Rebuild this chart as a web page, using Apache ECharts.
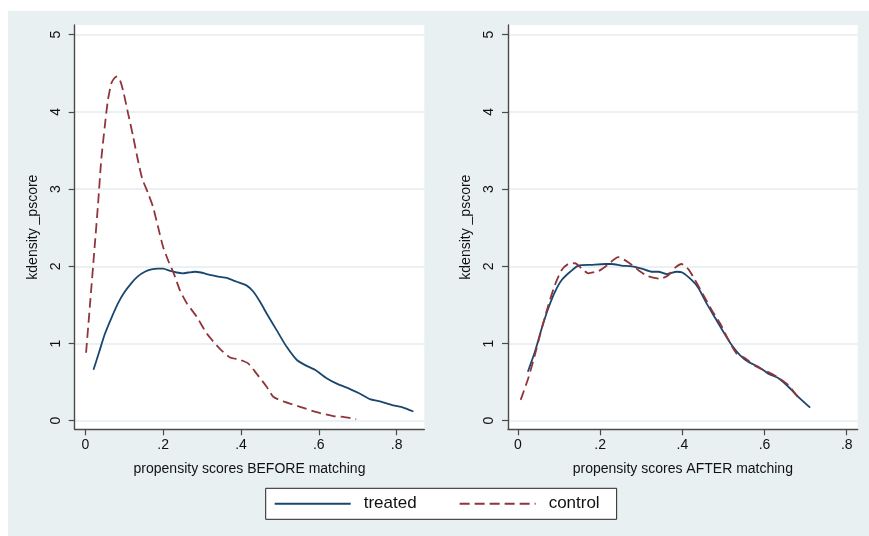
<!DOCTYPE html>
<html>
<head>
<meta charset="utf-8">
<script src="https://cdn.jsdelivr.net/npm/echarts@6/dist/echarts.min.js"></script>
<style>
  html, body { margin: 0; padding: 0; background: #ffffff; }
  #chart { position: absolute; left: 8px; top: 11px; width: 861px; height: 525px; }
</style>
</head>
<body>
<div id="chart"></div>
<script>
// Kernel density of the propensity score, treated vs control, before and after matching.
const xTicks = [0, 0.2, 0.4, 0.6, 0.8];
const yTicks = [0, 1, 2, 3, 4, 5];
const seriesNames = ['treated', 'control'];
const xTitles = ['propensity scores BEFORE matching', 'propensity scores AFTER matching'];
const yTitle = 'kdensity _pscore';

// [pscore, density]
const treatedBefore = [
  [0.021,0.66],[0.035,0.88],[0.050,1.12],[0.067,1.33],[0.084,1.52],[0.100,1.66],
  [0.118,1.78],[0.135,1.87],[0.153,1.93],[0.170,1.96],[0.187,1.97],[0.200,1.97],
  [0.218,1.94],[0.235,1.92],[0.250,1.91],[0.265,1.92],[0.282,1.93],[0.297,1.92],
  [0.312,1.90],[0.330,1.88],[0.350,1.86],[0.363,1.85],[0.389,1.80],[0.415,1.75],
  [0.432,1.67],[0.449,1.54],[0.466,1.39],[0.492,1.17],[0.517,0.96],[0.543,0.79],
  [0.565,0.72],[0.590,0.66],[0.620,0.55],[0.646,0.48],[0.680,0.41],[0.706,0.35],
  [0.731,0.28],[0.757,0.25],[0.791,0.20],[0.817,0.17],[0.843,0.12]
];
const controlBefore = [
  [0.002,0.88],[0.012,1.50],[0.024,2.25],[0.033,2.82],[0.041,3.38],[0.050,3.81],
  [0.058,4.15],[0.067,4.37],[0.075,4.44],[0.082,4.46],[0.090,4.40],[0.097,4.28],
  [0.110,3.98],[0.123,3.68],[0.135,3.38],[0.146,3.14],[0.161,2.95],[0.174,2.77],
  [0.187,2.51],[0.200,2.25],[0.215,2.05],[0.228,1.90],[0.243,1.69],[0.261,1.52],
  [0.286,1.35],[0.312,1.13],[0.346,0.93],[0.372,0.82],[0.397,0.79],[0.419,0.74],
  [0.440,0.61],[0.466,0.44],[0.483,0.31],[0.509,0.25],[0.552,0.18],[0.595,0.11],
  [0.637,0.06],[0.663,0.05],[0.696,0.02]
];
const treatedAfter = [
  [0.024,0.635],[0.041,0.89],[0.058,1.20],[0.074,1.46],[0.090,1.67],[0.106,1.82],
  [0.127,1.93],[0.147,2.01],[0.179,2.02],[0.212,2.03],[0.228,2.03],[0.252,2.01],
  [0.277,2.00],[0.301,1.97],[0.325,1.93],[0.342,1.93],[0.362,1.90],[0.386,1.93],
  [0.400,1.92],[0.423,1.82],[0.439,1.72],[0.459,1.52],[0.480,1.33],[0.500,1.15],
  [0.520,0.98],[0.540,0.85],[0.561,0.76],[0.585,0.70],[0.609,0.61],[0.634,0.55],
  [0.658,0.44],[0.682,0.31],[0.711,0.17]
];
const controlAfter = [
  [0.0065,0.27],[0.025,0.55],[0.041,0.85],[0.058,1.20],[0.074,1.50],[0.090,1.76],
  [0.106,1.95],[0.122,2.03],[0.139,2.04],[0.155,1.97],[0.171,1.91],[0.196,1.94],
  [0.216,2.01],[0.244,2.12],[0.269,2.05],[0.293,1.95],[0.317,1.87],[0.346,1.84],
  [0.365,1.88],[0.382,1.98],[0.398,2.03],[0.415,1.96],[0.431,1.82],[0.451,1.63],
  [0.472,1.43],[0.492,1.26],[0.512,1.05],[0.532,0.87],[0.553,0.81],[0.577,0.71],
  [0.605,0.64],[0.630,0.57],[0.658,0.46],[0.686,0.27]
];

const FONT = "'Liberation Sans', Arial, sans-serif";
const NAVY = '#1a476f';
const MAROON = '#90353b';
const AXIS = '#4a4a4a';
const GRIDLINE = '#e4ecef';

function xAxisFor(idx, min, max) {
  return {
    type: 'value', gridIndex: idx, min: min, max: max,
    name: xTitles[idx], nameLocation: 'middle', nameGap: 33,
    nameTextStyle: { fontFamily: FONT, fontSize: 14, color: '#111' },
    axisLine: { show: true, onZero: false, lineStyle: { color: AXIS, width: 1.4 } },
    axisTick: { show: true, customValues: xTicks, length: 6, lineStyle: { color: AXIS, width: 1.2 } },
    axisLabel: {
      customValues: xTicks, margin: 9, fontFamily: FONT, fontSize: 14, color: '#111',
      formatter: v => (v === 0 ? '0' : String(+v.toFixed(1)).replace(/^0/, ''))
    },
    splitLine: { show: false }
  };
}
function yAxisFor(idx) {
  return {
    type: 'value', gridIndex: idx, min: -0.111, max: 5.126,
    name: yTitle, nameLocation: 'middle', nameGap: 35,
    nameTextStyle: { fontFamily: FONT, fontSize: 14, color: '#111' },
    axisLine: { show: true, onZero: false, lineStyle: { color: AXIS, width: 1.4 } },
    axisTick: { show: true, customValues: yTicks, length: 6, lineStyle: { color: AXIS, width: 1.2 } },
    axisLabel: {
      customValues: yTicks, rotate: 90, margin: 12, fontFamily: FONT, fontSize: 14, color: '#111',
      formatter: v => String(v)
    },
    splitLine: { show: true, lineStyle: { color: GRIDLINE, width: 1.5 } }
  };
}
function curve(name, data, idx, color, dashed) {
  return {
    type: 'line', name: name, data: data, xAxisIndex: idx, yAxisIndex: idx,
    symbol: 'none', smooth: 0.2, silent: true,
    lineStyle: { color: color, width: 1.8, type: dashed ? [10, 5] : 'solid' },
    itemStyle: { color: color }
  };
}

const chart = echarts.init(document.getElementById('chart'), null, { renderer: 'canvas' });
chart.setOption({
  animation: false,
  backgroundColor: '#e9f0f2',
  grid: [
    { left: 66.7, top: 14, width: 349.6, height: 404.3, show: true, backgroundColor: '#ffffff', borderWidth: 0 },
    { left: 500, top: 14, width: 349.7, height: 404.3, show: true, backgroundColor: '#ffffff', borderWidth: 0 }
  ],
  xAxis: [xAxisFor(0, -0.0272, 0.871), xAxisFor(1, -0.0243, 0.8267)],
  yAxis: [yAxisFor(0), yAxisFor(1)],
  legend: {
    data: seriesNames,
    left: 257.7, top: 477.3,
    orient: 'horizontal',
    backgroundColor: '#ffffff', borderColor: '#222', borderWidth: 1,
    padding: [7, 17, 7, 8],
    itemWidth: 76, itemHeight: 14, itemGap: 42,
    itemStyle: { opacity: 0 },
    textStyle: { fontFamily: FONT, fontSize: 17, color: '#111', padding: [0, 0, 0, 8] }
  },
  series: [
    curve(seriesNames[0], treatedBefore, 0, NAVY, false),
    curve(seriesNames[1], controlBefore, 0, MAROON, true),
    curve(seriesNames[0], treatedAfter, 1, NAVY, false),
    curve(seriesNames[1], controlAfter, 1, MAROON, true)
  ]
});
</script>
</body>
</html>
